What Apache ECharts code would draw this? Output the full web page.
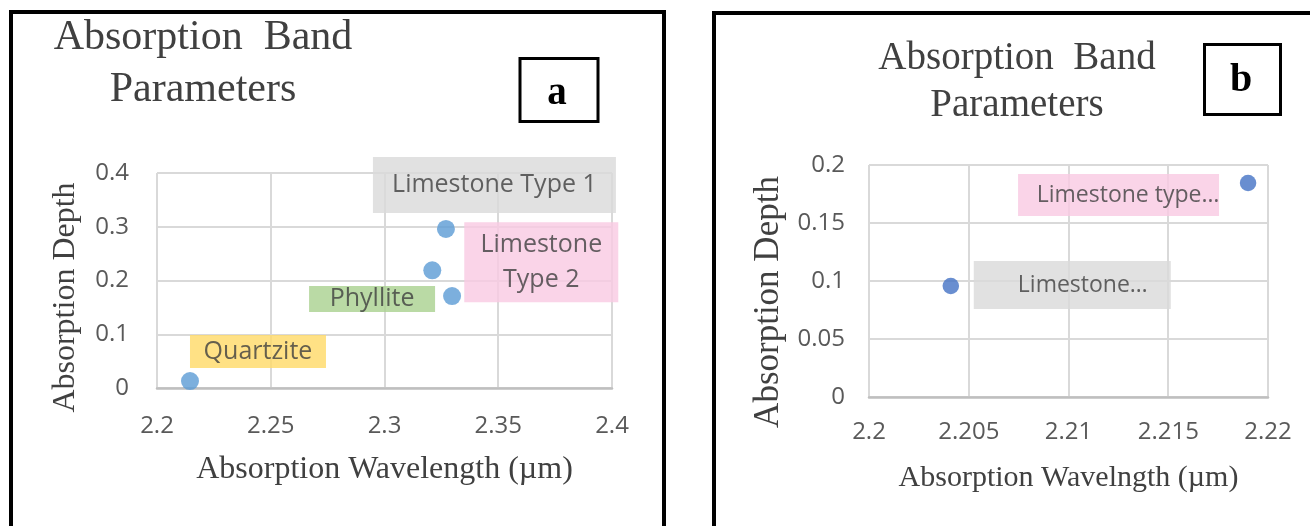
<!DOCTYPE html>
<html>
<head>
<meta charset="utf-8">
<script src="https://cdn.jsdelivr.net/npm/echarts@6/dist/echarts.min.js"></script>
<style>
  html, body { margin: 0; padding: 0; background: #fff; }
  #chart { width: 1310px; height: 526px; }
</style>
</head>
<body>
<div id="chart"></div>
<script>
// Panel a: absorption band parameters of four rock types
const rocksA = ['Quartzite', 'Phyllite', 'Limestone Type 2', 'Limestone Type 1'];
const wavelengthA = [2.2145, 2.3297, 2.321, 2.327];
const depthA = [0.013, 0.171, 0.219, 0.296];
const xTicksA = [2.2, 2.25, 2.3, 2.35, 2.4];
const yTicksA = [0, 0.1, 0.2, 0.3, 0.4];

// Panel b: the two limestone types
const rocksB = ['Limestone…', 'Limestone type…'];
const wavelengthB = [2.2041, 2.219];
const depthB = [0.0957, 0.1845];
const xTicksB = [2.2, 2.205, 2.21, 2.215, 2.22];
const yTicksB = [0, 0.05, 0.1, 0.15, 0.2];

// Callout box styles, one per point (offset = box centre relative to the dot)
const calloutA = [
  { bg: '#ffd966', w: 136, lh: 33, pad: [0, 0, 0, 0], offset: [68, -29.5] },
  { bg: '#a9d18e', w: 126, lh: 26, pad: [0, 0, 0, 0], offset: [-80, 3] },
  { bg: '#f9c9e2', w: 154, lh: 35, pad: [5, 0, 5, 0], offset: [109, -8], wrap: true },
  { bg: '#d9d9d9', w: 243, lh: 56, pad: [0, 0, 0, 0], offset: [48.5, -44] }
];
const calloutB = [
  { bg: '#d9d9d9', w: 176, lh: 48, pad: [0, 0, 0, 21], offset: [121.5, -1] },
  { bg: '#f9c9e2', w: 182, lh: 42, pad: [0, 0, 0, 19], offset: [-129.5, 12] }
];

const serif = '"Liberation Serif", "Times New Roman", serif';
const sans = '"Open Sans", "Noto Sans", sans-serif';
const tickFmt = v => String(+(+v).toFixed(4));

function points(names, xs, ys, styles, fontSize) {
  return names.map((name, i) => {
    const s = styles[i];
    return {
      name,
      value: [xs[i], ys[i]],
      label: {
        show: true,
        position: 'inside',
        offset: s.offset,
        formatter: s.wrap ? p => p.name.replace(' Type', '\nType') : '{b}',
        backgroundColor: s.bg,
        width: s.w,
        lineHeight: s.lh,
        padding: s.pad,
        align: 'center',
        color: '#3f3f3f',
        fontFamily: sans,
        fontSize
      }
    };
  });
}

function xAxisFor(ticks, gridIndex, name, labelMargin, nameGap, nameSize) {
  return {
    type: 'value', gridIndex,
    min: ticks[0], max: ticks[ticks.length - 1], interval: ticks[1] - ticks[0],
    name, nameLocation: 'middle', nameGap,
    nameTextStyle: { fontFamily: serif, fontSize: nameSize, color: '#404040' },
    axisLine: { show: true, lineStyle: { color: '#bfbfbf', width: 2.5 } },
    axisTick: { show: false },
    splitLine: { show: true, showMinLine: true, showMaxLine: true, lineStyle: { color: '#d9d9d9', width: 2 } },
    axisLabel: { color: '#595959', fontFamily: sans, fontSize: 24, margin: labelMargin, formatter: tickFmt }
  };
}

function yAxisFor(ticks, gridIndex, name, labelMargin, nameGap, nameSize, shiftDown) {
  return {
    type: 'value', gridIndex,
    min: ticks[0], max: ticks[ticks.length - 1], interval: ticks[1] - ticks[0],
    name, nameLocation: 'middle', nameGap,
    nameTextStyle: { fontFamily: serif, fontSize: nameSize, color: '#404040', padding: [0, shiftDown * 2, 0, 0] },
    axisLine: { show: false },
    axisTick: { show: false },
    splitLine: { show: true, showMinLine: true, showMaxLine: true, lineStyle: { color: '#d9d9d9', width: 2 } },
    axisLabel: { color: '#595959', fontFamily: sans, fontSize: 24, margin: labelMargin, formatter: tickFmt }
  };
}

const chart = echarts.init(document.getElementById('chart'), null, { renderer: 'canvas' });

chart.setOption({
  animation: false,
  backgroundColor: '#ffffff',
  textStyle: { fontFamily: sans },
  grid: [
    { left: 157, top: 173, width: 455, height: 215, containLabel: false },
    { left: 869, top: 165, width: 399, height: 232, containLabel: false }
  ],
  xAxis: [
    xAxisFor(xTicksA, 0, 'Absorption Wavelength (µm)', 26, 66, 32),
    xAxisFor(xTicksB, 1, 'Absorption Wavelngth (µm)', 23, 66, 30)
  ],
  yAxis: [
    yAxisFor(yTicksA, 0, 'Absorption Depth', 28, 75, 32, 17),
    yAxisFor(yTicksB, 1, 'Absorption Depth', 24, 83, 35, 21)
  ],
  series: [
    {
      type: 'scatter', xAxisIndex: 0, yAxisIndex: 0,
      symbolSize: 18, itemStyle: { color: '#5b9bd5' },
      data: points(rocksA, wavelengthA, depthA, calloutA, 25)
    },
    {
      type: 'scatter', xAxisIndex: 1, yAxisIndex: 1,
      symbolSize: 16.5, itemStyle: { color: '#4472c4' },
      data: points(rocksB, wavelengthB, depthB, calloutB, 23)
    }
  ],
  graphic: [
    // panel frames
    { type: 'rect', shape: { x: 11, y: 12, width: 653, height: 540 }, style: { fill: 'none', stroke: '#000', lineWidth: 4 }, z: 100 },
    { type: 'rect', shape: { x: 714, y: 13, width: 640, height: 540 }, style: { fill: 'none', stroke: '#000', lineWidth: 4 }, z: 100 },
    // panel titles
    { type: 'text', x: 203, y: 12, z: 100, style: { text: 'Absorption  Band\nParameters', textAlign: 'center', textVerticalAlign: 'top', fontFamily: serif, fontSize: 42, lineHeight: 52, fill: '#404040' } },
    { type: 'text', x: 1017, y: 35, z: 100, style: { text: 'Absorption  Band\nParameters', textAlign: 'center', textVerticalAlign: 'top', fontFamily: serif, fontSize: 39, lineHeight: 47, fill: '#404040' } },
    // panel letters
    { type: 'rect', shape: { x: 520, y: 58.5, width: 78, height: 63 }, style: { fill: '#fff', stroke: '#000', lineWidth: 3 }, z: 100 },
    { type: 'text', x: 557, y: 94, z: 101, style: { text: 'a', textAlign: 'center', textVerticalAlign: 'middle', fontFamily: serif, fontWeight: 'bold', fontSize: 39, fill: '#000' } },
    { type: 'rect', shape: { x: 1204.5, y: 44.5, width: 76, height: 70 }, style: { fill: '#fff', stroke: '#000', lineWidth: 3 }, z: 100 },
    { type: 'text', x: 1241, y: 81, z: 101, style: { text: 'b', textAlign: 'center', textVerticalAlign: 'middle', fontFamily: serif, fontWeight: 'bold', fontSize: 40, fill: '#000' } }
  ]
});
</script>
</body>
</html>
